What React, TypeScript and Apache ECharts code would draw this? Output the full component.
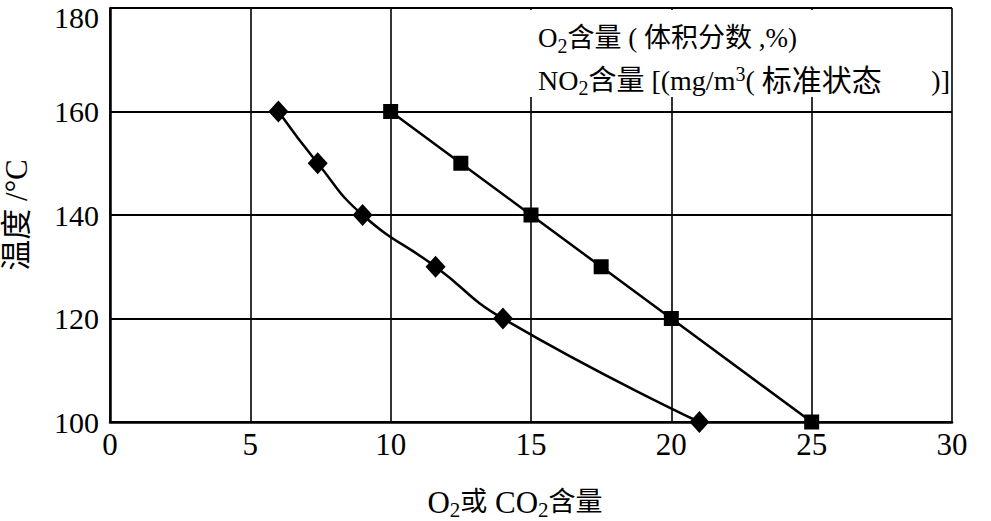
import React, { useEffect, useRef } from "react";
import * as echarts from "echarts";

const temperatures = [160, 150, 140, 130, 120, 100];
const o2Values = [6, 7.4, 9, 11.6, 14, 21];
const no2Values = [10, 12.5, 15, 17.5, 20, 25];
const xTicks = [0, 5, 10, 15, 20, 25, 30];
const yTicks = [100, 120, 140, 160, 180];
const seriesNames = ["O2含量（体积分数,%）", "NO2含量[(mg/m3(标准状态)]"];

const SERIF = "'Liberation Serif', 'Times New Roman', 'Noto Sans CJK SC', serif";

export default function App() {
  const ref = useRef<HTMLDivElement>(null);
  useEffect(() => {
    if (!ref.current) return;
    const chart = echarts.init(ref.current, undefined, { renderer: "svg" });
    const legendRich = {
      a: { fontSize: 27, fontFamily: SERIF, color: "#000" },
      b: { fontSize: 28, fontFamily: SERIF, color: "#000" },
      w: { fontSize: 30, fontFamily: SERIF, color: "#000" },
      s: { fontSize: 20, fontFamily: SERIF, color: "#000", padding: [15, 0, 0, 0] },
      p: { fontSize: 20, fontFamily: SERIF, color: "#000", padding: [0, 0, 13, 0] },
    };
    const nameRich = {
      a: { fontSize: 31, fontFamily: SERIF, color: "#000" },
      c: { fontSize: 27, fontFamily: SERIF, color: "#000" },
      s: { fontSize: 21, fontFamily: SERIF, color: "#000", padding: [16, 0, 0, 0] },
    };
    const yMax = yTicks[yTicks.length - 1];
    chart.setOption({
      animation: false,
      backgroundColor: "#fff",
      grid: { left: 110, right: 39, top: 8, bottom: 99, outerBoundsMode: "none", containLabel: false },
      xAxis: {
        type: "value",
        min: xTicks[0],
        max: xTicks[xTicks.length - 1],
        interval: 5,
        axisLine: { show: true, lineStyle: { color: "#000", width: 2.5 } },
        axisTick: { show: false },
        splitLine: { show: true, lineStyle: { color: "#000", width: 1.6 } },
        axisLabel: { color: "#000", fontSize: 31, fontFamily: SERIF, margin: 7 },
        name: "{a|O}{s|2}{c|或}{a| CO}{s|2}{c|含量}",
        nameLocation: "middle",
        nameGap: 62,
        nameTextStyle: { rich: nameRich, padding: [0, 32, 0, 0] },
      },
      yAxis: {
        type: "value",
        min: yTicks[0],
        max: yMax,
        interval: 20,
        axisLine: { show: true, lineStyle: { color: "#000", width: 2.5 } },
        axisTick: { show: false },
        splitLine: { show: true, lineStyle: { color: "#000", width: 2.2 } },
        axisLabel: {
          color: "#000",
          fontSize: 30,
          fontFamily: SERIF,
          margin: 11,
          formatter: (v: number) => (v === yMax ? `{t|${v}}` : `${v}`),
          rich: { t: { fontSize: 30, fontFamily: SERIF, color: "#000", padding: [9, 0, -9, 0] } },
        },
        name: "温度 /°C",
        nameLocation: "middle",
        nameGap: 78,
        nameTextStyle: { color: "#000", fontSize: 31, fontFamily: SERIF },
      },
      series: [
        {
          name: seriesNames[0],
          type: "line",
          smooth: 0.5,
          data: o2Values.map((v, i) => [v, temperatures[i]]),
          symbol: "diamond",
          symbolSize: [20, 22],
          itemStyle: { color: "#000" },
          lineStyle: { color: "#000", width: 2.5 },
          z: 5,
        },
        {
          name: seriesNames[1],
          type: "line",
          data: no2Values.map((v, i) => [v, temperatures[i]]),
          symbol: "rect",
          symbolSize: 15,
          itemStyle: { color: "#000" },
          lineStyle: { color: "#000", width: 2.5 },
          z: 5,
        },
      ],
      graphic: [
        {
          type: "rect",
          shape: { x: 515, y: 10, width: 436, height: 87 },
          style: { fill: "#fff" },
          z: 10,
        },
        {
          type: "text",
          x: 538,
          y: 38,
          z: 11,
          style: {
            text: "{a|O}{s|2}{a|含量 ( 体积分数 ,%)}",
            rich: legendRich,
            verticalAlign: "middle",
            align: "left",
          },
        },
        {
          type: "text",
          x: 538,
          y: 80,
          z: 11,
          style: {
            text: "{b|NO}{s|2}{b|含量 [(mg/m}{p|3}{b|( }{w|标准状态}",
            rich: legendRich,
            verticalAlign: "middle",
            align: "left",
          },
        },
        {
          type: "text",
          x: 950,
          y: 80,
          z: 11,
          style: {
            text: ")]",
            font: `28px ${SERIF}`,
            fill: "#000",
            verticalAlign: "middle",
            align: "right",
          },
        },
      ],
    });
    return () => chart.dispose();
  }, []);
  return (
    <div style={{ position: "absolute", left: 0, top: 0 }}>
      <div ref={ref} style={{ width: 991, height: 521 }} />
    </div>
  );
}
